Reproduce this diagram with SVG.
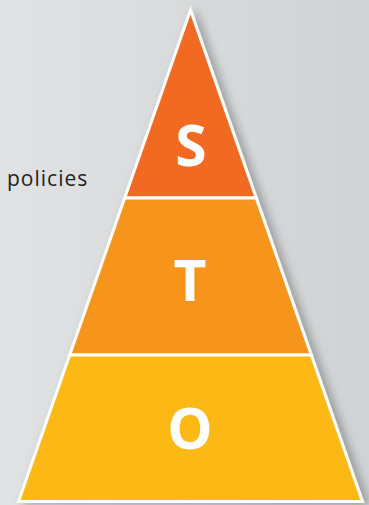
<svg xmlns="http://www.w3.org/2000/svg" width="369" height="505" viewBox="0 0 369 505">
<defs>
<linearGradient id="bg" x1="0" y1="0" x2="1" y2="0">
<stop offset="0" stop-color="#e1e2e4"/>
<stop offset="1" stop-color="#d1d2d4"/>
</linearGradient>
<filter id="sh" x="-20%" y="-20%" width="140%" height="140%">
<feDropShadow dx="5" dy="2" stdDeviation="5" flood-color="#000" flood-opacity="0.28"/>
</filter>
</defs>
<style>
.tier{stroke:#fff;stroke-width:3;stroke-linejoin:miter}
.lbl{font-family:"Open Sans","DejaVu Sans",sans-serif;font-weight:700;font-size:57px;fill:#fff;text-anchor:middle}
.note{font-family:"Open Sans","DejaVu Sans",sans-serif;font-size:21px;letter-spacing:1px;fill:#231f20}
</style>
<rect width="369" height="505" fill="url(#bg)"/>
<g filter="url(#sh)">
<g id="tier-s">
<polygon class="tier" fill="#f26b23" points="190.5,10 256.3,198 124.7,198"/>
<text class="lbl" x="191" y="166">S</text>
</g>
<g id="tier-t">
<polygon class="tier" fill="#f7941f" points="124.7,198 256.3,198 311.3,355 69.7,355"/>
<text class="lbl" x="190" y="301">T</text>
</g>
<g id="tier-o">
<polygon class="tier" fill="#fcb918" points="69.7,355 311.3,355 362.5,501.5 18.5,501.5"/>
<text class="lbl" x="190" y="449">O</text>
</g>
</g>
<g id="connectors"/>
<text class="note" x="7" y="186">policies</text>
</svg>
